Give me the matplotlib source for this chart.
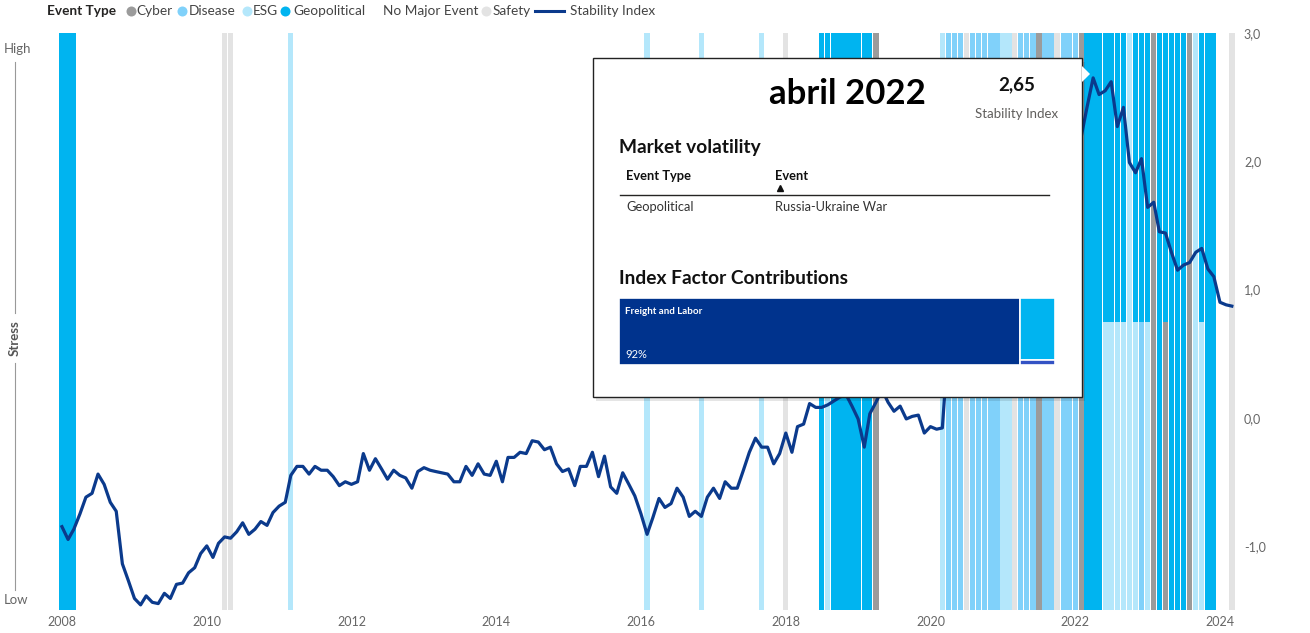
import numpy as np
import pandas as pd
import matplotlib
matplotlib.use("Agg")
import matplotlib.pyplot as plt
from matplotlib.patches import Rectangle, Polygon
from matplotlib.ticker import FuncFormatter

plt.rcParams['font.family'] = ['Lato', 'DejaVu Sans']

W, H = 1310, 633

# monthly stability index, 2008-01 .. 2024-03
months = pd.date_range("2008-01-01", "2024-03-01", freq="MS")
stability = [
    -0.85, -0.95, -0.87, -0.75, -0.62, -0.59, -0.44, -0.52, -0.66, -0.73, -1.14, -1.27,  # 2008
    -1.41, -1.46, -1.39, -1.44, -1.45, -1.37, -1.41, -1.30, -1.29, -1.21, -1.17, -1.06,  # 2009
    -1.00, -1.09, -0.98, -0.93, -0.94, -0.89, -0.82, -0.91, -0.87, -0.81, -0.84, -0.74,  # 2010
    -0.69, -0.66, -0.45, -0.38, -0.38, -0.44, -0.38, -0.41, -0.41, -0.46, -0.53, -0.50,  # 2011
    -0.52, -0.50, -0.28, -0.41, -0.32, -0.40, -0.48, -0.41, -0.45, -0.47, -0.55, -0.42,  # 2012
    -0.39, -0.41, -0.42, -0.43, -0.44, -0.50, -0.50, -0.38, -0.45, -0.36, -0.44, -0.45,  # 2013
    -0.34, -0.50, -0.31, -0.31, -0.27, -0.28, -0.18, -0.19, -0.25, -0.23, -0.36, -0.42,  # 2014
    -0.40, -0.53, -0.38, -0.38, -0.27, -0.46, -0.30, -0.54, -0.59, -0.43, -0.52, -0.61,  # 2015
    -0.75, -0.91, -0.78, -0.63, -0.70, -0.67, -0.55, -0.62, -0.77, -0.73, -0.77, -0.62,  # 2016
    -0.55, -0.63, -0.50, -0.55, -0.55, -0.41, -0.27, -0.16, -0.23, -0.23, -0.36, -0.28,  # 2017
    -0.12, -0.27, -0.07, -0.05, 0.11, 0.08, 0.08, 0.10, 0.13, 0.16, 0.18, 0.09,          # 2018
    -0.01, -0.23, 0.03, 0.12, 0.22, 0.12, 0.05, 0.09, -0.01, 0.01, 0.02, -0.12,          # 2019
    -0.07, -0.09, -0.08, 0.60, 0.90, 1.00, 0.85, 0.75, 0.70, 0.80, 0.90, 1.00,           # 2020
    1.10, 1.20, 1.30, 1.35, 1.45, 1.60, 1.70, 1.80, 1.85, 1.95, 2.05, 2.10,              # 2021
    2.00, 2.20, 2.42, 2.65, 2.52, 2.55, 2.62, 2.27, 2.42, 1.99, 1.91, 2.02,              # 2022
    1.64, 1.68, 1.45, 1.44, 1.29, 1.15, 1.19, 1.21, 1.29, 1.32, 1.16, 1.10,              # 2023
    0.90, 0.88, 0.87,                                                                    # 2024
]

event_types = ["Cyber", "Disease", "ESG", "Geopolitical", "No Major Event", "Safety"]
event_colors = ["#9b9b9b", "#80d1fa", "#b4e7fb", "#00b4f0", "#ffffff", "#e3e3e3"]

# event spans (first month, last month, type)
ev_start = ["2008-01", "2010-04", "2011-03", "2016-02", "2016-11", "2017-09", "2018-01",
            "2018-07", "2018-08", "2019-04", "2020-03", "2020-04", "2020-07", "2020-08",
            "2021-01", "2021-03", "2021-04", "2021-07", "2021-08", "2021-10", "2021-11",
            "2022-02", "2022-03", "2022-06", "2022-10", "2022-11", "2022-11", "2022-12",
            "2023-01", "2023-02", "2023-03", "2023-04", "2023-08", "2023-09", "2023-10",
            "2023-10", "2024-03"]
ev_end = ["2008-03", "2010-05", "2011-03", "2016-02", "2016-11", "2017-09", "2018-01",
          "2019-03", "2018-08", "2019-04", "2020-03", "2020-06", "2020-07", "2020-12",
          "2021-02", "2021-03", "2021-06", "2021-07", "2021-09", "2021-10", "2022-01",
          "2022-02", "2022-09", "2022-09", "2022-10", "2023-01", "2022-11", "2022-12",
          "2023-01", "2023-02", "2023-07", "2023-04", "2023-08", "2023-09", "2023-12",
          "2023-10", "2024-03"]
ev_type = ["Geopolitical", "Safety", "ESG", "ESG", "ESG", "ESG", "Safety",
           "Geopolitical", "ESG", "Cyber", "ESG", "Disease", "Safety", "Disease",
           "ESG", "Safety", "Disease", "Cyber", "Disease", "Safety", "Disease",
           "Cyber", "Geopolitical", "ESG", "ESG", "Geopolitical", "ESG", "Disease",
           "ESG", "Cyber", "Geopolitical", "Cyber", "Cyber", "ESG", "Geopolitical",
           "ESG", "Safety"]

# tooltip content
tip_title = "abril 2022"
tip_value = 2.65
tip_event_type = "Geopolitical"
tip_event = "Russia-Ukraine War"
factor_labels = ["Freight and Labor", "", ""]
factor_share = [92.0, 7.4, 0.6]
factor_colors = ["#00338d", "#00b4f0", "#3352c4"]

# ---- figure ----
fig = plt.figure(figsize=(W / 100, H / 100), dpi=100)
fig.patch.set_facecolor("white")
ax = fig.add_axes([55 / W, 1 - 610 / H, (1237 - 55) / W, 577 / H])
for s in ax.spines.values():
    s.set_visible(False)

# share of each event type per month
idx = {m: k for k, m in enumerate(months)}
present = [[] for _ in months]
for s, e, t in zip(ev_start, ev_end, ev_type):
    for m in pd.date_range(s, e, freq="MS"):
        present[idx[m]].append(t)
for lst in present:
    if not lst:
        lst.append("No Major Event")

bottom = np.zeros(len(months))
for t, c in zip(event_types, event_colors):
    h = np.array([1.0 / len(l) if t in l else 0.0 for l in present])
    m = h > 0
    ax.bar(months[m], h[m], bottom=bottom[m], width=27, color=c, linewidth=0)
    bottom += h

ax.set_ylim(0, 1)
ax.set_yticks([])
ax.set_xlim(pd.Timestamp("2007-11-27"), pd.Timestamp("2024-03-27"))
yrs = pd.date_range("2008-01-01", "2024-01-01", freq="2YS")
ax.set_xticks(yrs)
ax.set_xticklabels([str(d.year) for d in yrs])
ax.tick_params(axis="x", length=0, pad=4, labelsize=9, labelcolor="#666666")

ax2 = ax.twinx()
for s in ax2.spines.values():
    s.set_visible(False)
ax2.plot(months, stability, color="#0b3a8c", lw=2.3, solid_joinstyle="round")
ax2.set_ylim(-1.5, 3.0)
ax2.set_yticks([-1, 0, 1, 2, 3])
ax2.yaxis.set_major_formatter(FuncFormatter(lambda v, p: f"{v:.1f}".replace(".", ",")))
ax2.tick_params(axis="y", length=0, pad=5, labelsize=9, labelcolor="#666666")

# ---- overlay in pixel coordinates: legend + left stress axis ----
ov = fig.add_axes([0, 0, 1, 1])
ov.set_xlim(0, W)
ov.set_ylim(H, 0)
ov.axis("off")

ov.text(47, 11, "Event Type", fontsize=9.8, fontweight="bold", color="#252423", va="center")
leg_dot_x = [131, 182, 247, 285, 377, 486]
leg_txt_x = [136, 189, 253, 293, 383, 493]
for t, c, dx, tx in zip(event_types, event_colors, leg_dot_x, leg_txt_x):
    ov.plot(dx, 11, "o", ms=7.2, color=c, mec="none")
    ov.text(tx, 11, t, fontsize=9.8, color="#444444", va="center")
ov.plot([535, 564], [11, 11], color="#0b3a8c", lw=2.2)
ov.text(570, 11, "Stability Index", fontsize=9.8, color="#444444", va="center")

ov.text(4, 49, "High", fontsize=9.5, color="#666666", va="center")
ov.text(4, 600, "Low", fontsize=9.5, color="#666666", va="center")
ov.text(15, 338, "Stress", fontsize=9.5, color="#555555", fontweight="bold",
        rotation=90, ha="center", va="center")
ov.plot([15, 15], [62, 313], color="#999999", lw=0.8)
ov.plot([15, 15], [363, 590], color="#999999", lw=0.8)

# ---- tooltip ----
tx0, ty0, tw, th = 593, 58, 489, 339
tip = fig.add_axes([tx0 / W, 1 - (ty0 + th) / H, tw / W, th / H])
tip.set_xlim(0, tw)
tip.set_ylim(th, 0)
tip.axis("off")
tip.add_patch(Rectangle((3, 4), tw, th, facecolor="black", alpha=0.10, lw=0, clip_on=False))
tip.add_patch(Rectangle((0, 0), tw, th, facecolor="white", edgecolor="#222222", lw=1.0, clip_on=False))
tip.add_patch(Polygon([[tw, 8], [tw + 8, 16], [tw, 24]], closed=True, facecolor="white",
                      edgecolor="none", clip_on=False))

tip.text(254, 36, tip_title, fontsize=25, fontweight="bold", color="black", ha="center", va="center")
tip.text(424, 27, f"{tip_value:.2f}".replace(".", ","), fontsize=13.5, fontweight="bold",
         color="#111111", ha="center", va="center")
tip.text(424, 56, "Stability Index", fontsize=9.5, color="#605e5c", ha="center", va="center")

tip.text(26, 90, "Market volatility", fontsize=13.8, fontweight="bold", color="#111111", va="center")
tip.text(33, 118, "Event Type", fontsize=9.3, fontweight="bold", color="#111111", va="center")
tip.text(182, 118, "Event", fontsize=9.3, fontweight="bold", color="#111111", va="center")
tip.plot(187, 130, "^", ms=4, color="#111111")
tip.plot([27, 456], [137, 137], color="#252423", lw=1.0)
tip.text(33, 149, tip_event_type, fontsize=9.3, color="#333333", va="center")
tip.text(182, 149, tip_event, fontsize=9.3, color="#333333", va="center")

tip.text(26, 220, "Index Factor Contributions", fontsize=13.8, fontweight="bold", color="#111111", va="center")

# treemap: first factor as a column, rest stacked in the remaining column
mx0, my0, mw, mh = 26, 240, 436, 67
total = sum(factor_share)
w0 = mw * factor_share[0] / total
tip.add_patch(Rectangle((mx0, my0), w0, mh, facecolor=factor_colors[0], edgecolor="white", lw=1.2))
rest = sum(factor_share[1:])
yy = my0
for sh, c in zip(factor_share[1:], factor_colors[1:]):
    hh = mh * sh / rest
    tip.add_patch(Rectangle((mx0 + w0, yy), mw - w0, hh, facecolor=c, edgecolor="white", lw=1.2))
    yy += hh
tip.text(mx0 + 6, my0 + 13, factor_labels[0], fontsize=7, fontweight="bold", color="white", va="center")
tip.text(mx0 + 6, my0 + 57, f"{factor_share[0]:.0f}%", fontsize=8, color="white", va="center")

fig.savefig("out.png", dpi=100, facecolor="white")
